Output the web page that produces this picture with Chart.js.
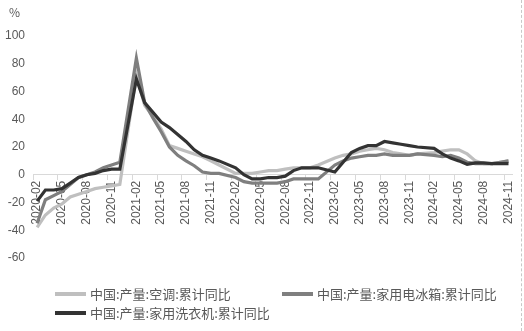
<!DOCTYPE html>
<html>
<head>
<meta charset="utf-8">
<script src="https://cdn.jsdelivr.net/npm/chart.js@4.4.1/dist/chart.umd.min.js"></script>
<style>
  html, body { margin: 0; padding: 0; background: #fff; }
  #wrap { position: relative; width: 521px; height: 331px; border-right: 1px dashed #c8c8c8; overflow: hidden; }
  #chart { position: absolute; left: 0; top: 0; }
  .unit { position: absolute; left: 9px; top: 3px; font: 12px "Noto Sans CJK SC", sans-serif; color: #595959; }
  .legend-item { position: absolute; font: 13px "Noto Sans CJK SC", sans-serif; color: #595959; white-space: nowrap; line-height: 18px; }
  .legend-item span { display: inline-block; width: 31px; height: 4px; vertical-align: middle; margin-right: 4px; position: relative; top: -1px; }
</style>
</head>
<body>
<div id="wrap">
  <canvas id="chart" width="524" height="331"></canvas>
  <div class="unit">%</div>
  <div id="legend"></div>
</div>
<script>
// monthly categories, January values are not published
var months = [
  "2020-02","2020-03","2020-04","2020-05","2020-06","2020-07","2020-08","2020-09","2020-10","2020-11","2020-12",
  "2021-01","2021-02","2021-03","2021-04","2021-05","2021-06","2021-07","2021-08","2021-09","2021-10","2021-11","2021-12",
  "2022-01","2022-02","2022-03","2022-04","2022-05","2022-06","2022-07","2022-08","2022-09","2022-10","2022-11","2022-12",
  "2023-01","2023-02","2023-03","2023-04","2023-05","2023-06","2023-07","2023-08","2023-09","2023-10","2023-11","2023-12",
  "2024-01","2024-02","2024-03","2024-04","2024-05","2024-06","2024-07","2024-08","2024-09","2024-10","2024-11"
];

var airCon = [
  -38, -29, -24, -21, -16, -14, -12, -10, -9, -8, -7,
  null, 72, 50, 42, 33, 21, 19, 17, 15, 13, 10, 7,
  null, 1, 1, 1, 2, 3, 3, 4, 5, 5, 5, 7,
  null, 12, 14, 15, 17, 18, 19, 18, 16, 15, 14, 15,
  null, 16, 17, 18, 18, 15, 10, 8, 8, 9, 10
];
var fridge = [
  -35, -18, -15, -12, -7, -2, 0, 2, 5, 7, 9,
  null, 84, 52, 41, 31, 20, 14, 10, 6.5, 2, 1, 1,
  null, -2, -5, -6, -6, -6, -6, -5, -3, -3, -3, -3,
  null, 7, 10, 12, 13, 14, 14, 15, 14, 14, 14, 15,
  null, 14, 13, 14, 12, 9, 8, 8, 8, 9, 10
];
var washer = [
  -19, -11, -11, -10, -6, -2, 0, 1, 3, 4, 4,
  null, 69, 52, 45, 38, 34, 29, 24, 18, 14, 12, 10,
  null, 5, 0, -3, -3, -2, -2, -1, 3, 5, 5, 5,
  null, 2, 9, 16, 19, 21, 21, 24, 23, 22, 21, 20,
  null, 19, 15, 12, 10, 7.5, 8.5, 8.5, 8, 8, 8
];

var seriesNames = ["中国:产量:空调:累计同比", "中国:产量:家用电冰箱:累计同比", "中国:产量:家用洗衣机:累计同比"];
var seriesColors = ["#bfbfbf", "#7f7f7f", "#333333"];
var yTicks = [-60, -40, -20, 0, 20, 40, 60, 80, 100];

function makeDataset(idx, values) {
  return {
    label: seriesNames[idx],
    data: values,
    borderColor: seriesColors[idx],
    backgroundColor: seriesColors[idx],
    borderWidth: 3.2,
    pointRadius: 0,
    tension: 0,
    spanGaps: true,
    order: 2 - idx
  };
}

var ctx = document.getElementById("chart").getContext("2d");
var chart = new Chart(ctx, {
  type: "line",
  data: {
    labels: months,
    datasets: [makeDataset(0, airCon), makeDataset(1, fridge), makeDataset(2, washer)]
  },
  options: {
    responsive: false,
    animation: false,
    layout: { padding: { top: 36, right: 11, bottom: 73, left: 0 } },
    plugins: { legend: { display: false }, tooltip: { enabled: false } },
    scales: {
      x: {
        type: "category",
        offset: true,
        position: { y: 0 },
        grid: {
          offset: true,
          drawOnChartArea: false,
          drawTicks: true,
          tickLength: 5,
          color: function (c) { return c.index % 3 === 0 ? "#d9d9d9" : "rgba(0,0,0,0)"; }
        },
        border: { display: true, color: "#d9d9d9" },
        ticks: {
          autoSkip: false,
          maxRotation: 90,
          minRotation: 90,
          padding: 1,
          color: "#595959",
          font: { size: 12, family: "Liberation Sans" },
          callback: function (val, i) { return i % 3 === 0 ? this.getLabelForValue(val) : ""; }
        }
      },
      y: {
        min: yTicks[0],
        max: yTicks[yTicks.length - 1],
        afterBuildTicks: function (s) { s.ticks = yTicks.map(function (v) { return { value: v }; }); },
        afterFit: function (s) { s.width = 33; },
        grid: { display: false },
        border: { display: false },
        ticks: {
          padding: 0,
          color: "#595959",
          font: { size: 12, family: "Liberation Sans" }
        }
      }
    }
  }
});

// custom legend below the chart
var legendPos = [[55, 285], [282, 285], [55, 304]];
var legendBox = document.getElementById("legend");
seriesNames.forEach(function (name, i) {
  var item = document.createElement("div");
  item.className = "legend-item";
  item.style.left = legendPos[i][0] + "px";
  item.style.top = legendPos[i][1] + "px";
  item.innerHTML = '<span style="background:' + seriesColors[i] + '"></span>' + name;
  legendBox.appendChild(item);
});
</script>
</body>
</html>
